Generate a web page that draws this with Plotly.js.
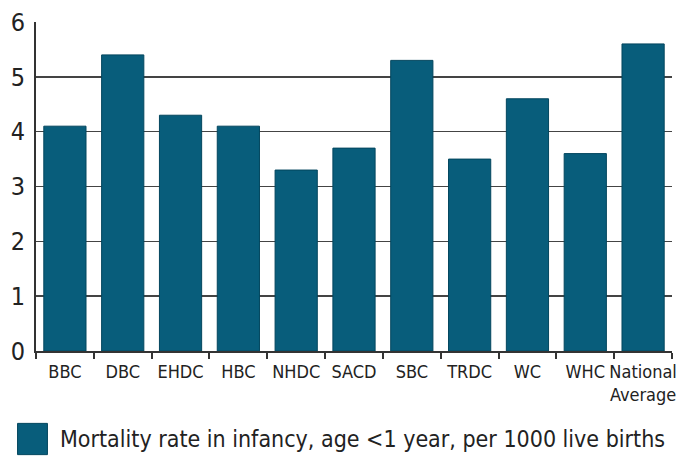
<!DOCTYPE html>
<html>
<head>
<meta charset="utf-8">
<script src="https://cdn.plot.ly/plotly-3.0.1.min.js"></script>
<style>html,body{margin:0;padding:0;background:#fff;}</style>
</head>
<body>
<div id="chart" style="width:692px;height:456px;"></div>
<script>
const categories = ["BBC","DBC","EHDC","HBC","NHDC","SACD","SBC","TRDC","WC","WHC","National<br>Average"];
const mortalityRate = [4.1, 5.4, 4.3, 4.1, 3.3, 3.7, 5.3, 3.5, 4.6, 3.6, 5.6];
const seriesName = "Mortality rate in infancy, age <1 year, per 1000 live births";
const yTicks = [0,1,2,3,4,5,6];

const FONT = "'DejaVu Sans Condensed', 'Liberation Sans Narrow', sans-serif";
const BAR = "#085d7b";

const trace = {
  type: "bar",
  x: categories,
  y: mortalityRate,
  name: seriesName,
  marker: { color: BAR, line: { color: "#03465e", width: 1 } },
  hoverinfo: "x+y",
  showlegend: false
};

const layout = {
  width: 692, height: 456,
  margin: { l: 36, r: 20, t: 22, b: 105 },
  paper_bgcolor: "#fff", plot_bgcolor: "#fff",
  bargap: 0.27,
  font: { family: FONT, color: "#222" },
  xaxis: {
    type: "category",
    showline: true, linecolor: "#333", linewidth: 2,
    ticks: "outside", tickson: "boundaries", ticklen: 6, tickwidth: 2, tickcolor: "#333",
    tickangle: 0,
    ticklabelstandoff: 3,
    tickfont: { size: 18, family: FONT, color: "#222" },
    showgrid: false, zeroline: false
  },
  yaxis: {
    range: [0, 6], tickvals: yTicks,
    showline: true, linecolor: "#333", linewidth: 2,
    showgrid: true, gridcolor: "#444", gridwidth: 1.5,
    zeroline: false, ticks: "",
    ticklabelstandoff: 4,
    tickfont: { size: 25, family: FONT, color: "#222" }
  },
  shapes: [
    { type: "rect", xref: "paper", yref: "paper",
      x0: -0.029, x1: 0.018, y0: -0.315, y1: -0.22,
      fillcolor: BAR, line: { color: "#03465e", width: 1 } }
  ],
  annotations: [
    { xref: "paper", yref: "paper", x: 0.035, y: -0.268, xanchor: "left", yanchor: "middle",
      text: seriesName, showarrow: false,
      font: { size: 23, family: FONT, color: "#222" } }
  ]
};

Plotly.newPlot("chart", [trace], layout, { displayModeBar: false, staticPlot: true });
</script>
</body>
</html>
